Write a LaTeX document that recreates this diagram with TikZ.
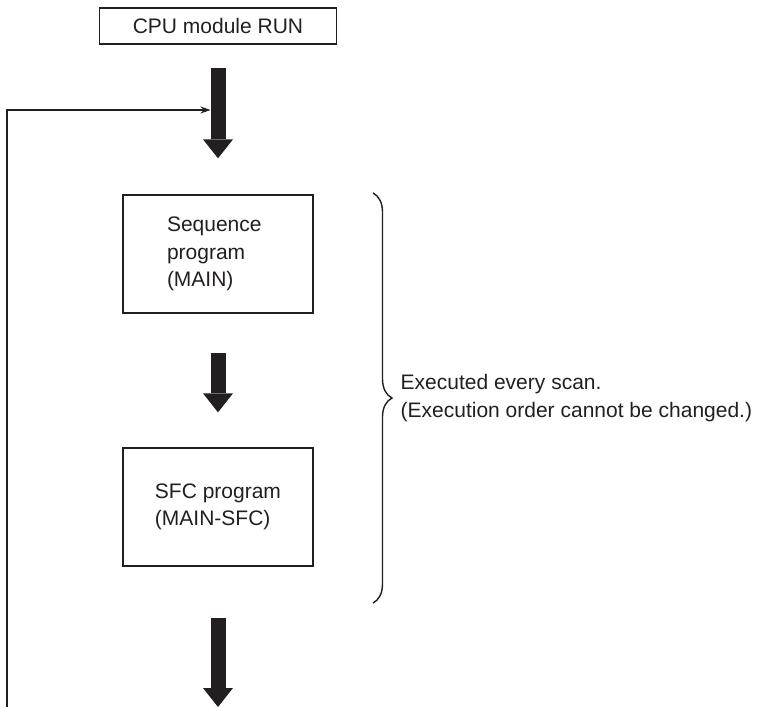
\documentclass[tikz,border=0pt]{standalone}
\usepackage{fontspec}
\setmainfont{Liberation Sans}
\usetikzlibrary{arrows.meta,decorations.pathreplacing}
\definecolor{plcInk}{RGB}{35,31,32}

\begin{document}
\begin{tikzpicture}[x=1pt, y=-1pt,
  txt/.style={font=\fontsize{21}{27.3}\selectfont, text=plcInk},
  runbox/.style={txt, draw=plcInk, line width=1.3pt, minimum width=237pt,
                 minimum height=36pt, inner sep=0pt},
  progbox/.style={txt, draw=plcInk, line width=1.3pt, minimum width=190pt,
                  minimum height=118pt, align=left, inner sep=0pt},
  fatarr/.style={plcInk, line width=15pt,
                 -{Triangle[length=19pt, width=30pt, line width=0pt]}},
  looparr/.style={plcInk, line width=1.3pt, -{Stealth[length=10pt, width=7pt]}},
  scanbrace/.style={plcInk, line width=1.4pt, decorate,
                    decoration={brace, amplitude=19pt}},
]
\useasboundingbox (0,0) rectangle (757,707);

%%------------------------------------------------------------------
%% Program flow
%%------------------------------------------------------------------
\node[runbox] (run) at (218,26) {CPU module RUN};

\node[progbox, text width=102pt] (seq) at (218,254) {Sequence\\program\\(MAIN)};
\node[progbox] (sfc) at (218,507) {SFC program\\(MAIN-SFC)};

\coordinate (scanend) at (218,707);

% fat arrows between the steps
\draw[fatarr, shorten <=23pt, shorten >=36pt] (run) -- (seq);
\draw[fatarr, shorten <=39pt, shorten >=35pt] (seq) -- (sfc);
\draw[fatarr, shorten <=51pt] (sfc) -- (scanend);

% return path back into the first arrow
\coordinate (loopfoot) at (7,707);
\coordinate (loopin) at (210.5,110);
\draw[looparr] (loopfoot) |- (loopin);

%%------------------------------------------------------------------
%% Brace and note
%%------------------------------------------------------------------
\draw[scanbrace] (373,193) -- (373,603)
     node[midway, right=27pt, txt, align=left, inner sep=0pt] (scannote)
     {Executed every scan.\\(Execution order cannot be changed.)};

\end{tikzpicture}
\end{document}
